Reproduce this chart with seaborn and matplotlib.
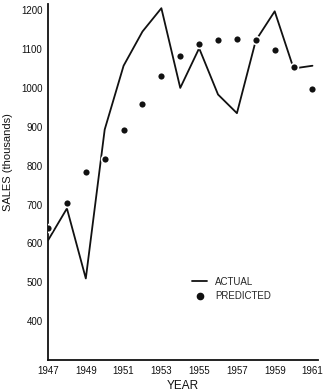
import matplotlib
matplotlib.use("Agg")
import matplotlib.pyplot as plt
import seaborn as sns
from matplotlib.lines import Line2D

years = [1947, 1948, 1949, 1950, 1951, 1952, 1953, 1954,
         1955, 1956, 1957, 1958, 1959, 1960, 1961]
actual = [608, 690, 510, 893, 1057, 1145, 1205, 1000,
          1102, 983, 935, 1122, 1197, 1050, 1057]
predicted = [640, 703, 785, 817, 892, 958, 1030, 1082,
             1112, 1122, 1126, 1122, 1097, 1054, 998]
year_labels = [str(y) if (y - 1947) % 2 == 0 else "" for y in years]

sns.set_style("white")
plt.rcParams['font.family'] = ['Liberation Sans', 'DejaVu Sans']

fig = plt.figure(figsize=(3.29, 3.91), dpi=100)
ax = fig.add_axes([0.146, 0.079, 0.821, 0.91])

sns.lineplot(x=years, y=actual, ax=ax, color="#111111", linewidth=1.3,
             legend=False)
sns.scatterplot(x=years, y=predicted, ax=ax, color="#111111", s=32,
                edgecolor="white", linewidth=1.2, zorder=3, legend=False)

ax.set_xlim(1947, 1961.3)
ax.set_ylim(300, 1215)
ax.set_xticks(years)
ax.set_xticklabels(year_labels)
ax.set_yticks(range(400, 1201, 100))
ax.tick_params(axis="both", direction="in", length=3, width=1,
               labelsize=7, colors="#111111", pad=4)
for side in ["top", "right"]:
    ax.spines[side].set_visible(False)
for side in ["left", "bottom"]:
    ax.spines[side].set_color("#111111")
    ax.spines[side].set_linewidth(1.3)

ax.set_xlabel("YEAR", fontsize=8.5, color="#111111")
ax.set_ylabel("SALES (thousands)", fontsize=8, color="#111111")
ax.xaxis.set_label_coords(0.5, -0.057)
ax.yaxis.set_label_coords(-0.128, 0.556)

handles = [Line2D([0], [0], color="#111111", lw=1.3),
           Line2D([0], [0], marker="o", color="#111111", lw=0, markersize=4.5)]
ax.legend(handles, ["ACTUAL", "PREDICTED"], loc="center left",
          bbox_to_anchor=(0.5, 0.2), frameon=False, fontsize=7,
          handlelength=1.6, handletextpad=0.8, labelspacing=0.5)

fig.savefig("out.png", dpi=100)
